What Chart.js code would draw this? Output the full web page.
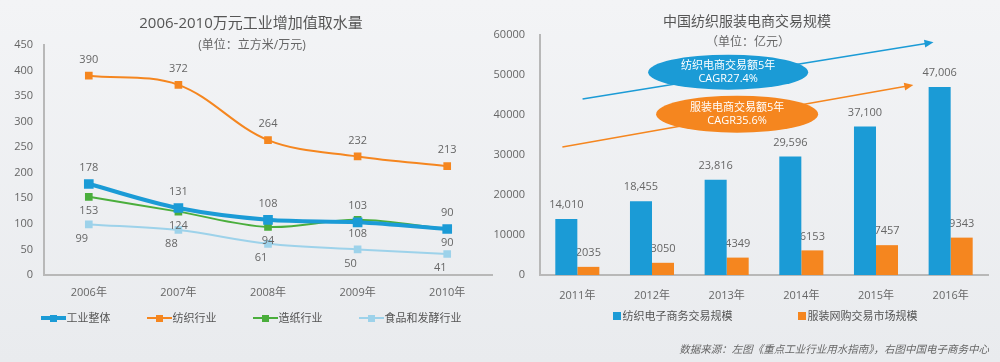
<!DOCTYPE html>
<html lang="zh">
<head>
  <meta charset="UTF-8">
  <title>工业取水量与纺织服装电商交易规模</title>
  <script src="https://cdn.jsdelivr.net/npm/chart.js"></script>
  <style>
    html, body {
      margin: 0;
      padding: 0;
    }
    body {
      width: 1000px;
      height: 362px;
      overflow: hidden;
      position: relative;
      font-family: "Open Sans", "Noto Sans CJK SC", sans-serif;
      background: linear-gradient(to bottom, #f3f4f6, #e9ebee);
      color: #555;
    }
    .box {
      position: absolute;
      top: 0;
      height: 362px;
    }
    #left { left: 0; width: 500px; }
    #right { left: 490px; width: 510px; }
    .title, .sub {
      position: absolute;
      text-align: center;
      white-space: nowrap;
    }
    .title { font-size: 15px; line-height: 20px; color: #555; }
    .sub { font-size: 12px; line-height: 16px; color: #666; }
    .legend {
      position: absolute;
      display: flex;
      justify-content: center;
      font-size: 11px;
      line-height: 14px;
      color: #555;
      white-space: nowrap;
    }
    .legend .item { display: flex; align-items: center; }
    .icon-line {
      position: relative;
      width: 25px;
      margin-right: 1px;
    }
    .icon-line .ln { position: absolute; left: 0; right: 0; top: 50%; }
    .icon-line .sq {
      position: absolute; left: 9px; top: 50%;
      width: 7px; height: 7px; margin-top: -3.5px;
    }
    .icon-box { width: 8px; height: 8px; margin-right: 2px; }
    #source {
      position: absolute;
      right: 11px;
      top: 341px;
      font-size: 10.5px;
      font-style: italic;
      color: #666;
      white-space: nowrap;
    }
  </style>
</head>
<body>
  <div class="box" id="left"><canvas id="waterChart"></canvas></div>
  <div class="box" id="right"><canvas id="ecomChart"></canvas></div>

  <div class="title" style="left:0;width:502px;top:12px;">2006-2010万元工业增加值取水量</div>
  <div class="sub" style="left:0;width:504px;top:37px;">(单位：立方米/万元)</div>
  <div class="title" style="left:547px;width:400px;top:11px;font-size:14px;">中国纺织服装电商交易规模</div>
  <div class="sub" style="left:548px;width:400px;top:34px;">（单位：亿元）</div>

  <div class="legend" id="leftLegend" style="left:3px;width:496px;top:311px;gap:36px;"></div>
  <div class="legend" id="rightLegend" style="left:565px;width:400px;top:309px;gap:65px;"></div>

  <div id="source">数据来源：左图《重点工业行业用水指南》，右图中国电子商务中心</div>

  <script>
    // left chart: water use per 10k yuan of industrial value added
    const lineYears = ['2006年', '2007年', '2008年', '2009年', '2010年'];
    const overall = [178, 131, 108, 103, 90];
    const textile = [390, 372, 264, 232, 213];
    const paper = [153, 124, 94, 108, 90];
    const food = [99, 88, 61, 50, 41];

    // right chart: e-commerce scale (亿元)
    const barYears = ['2011年', '2012年', '2013年', '2014年', '2015年', '2016年'];
    const textileEcom = [14010, 18455, 23816, 29596, 37100, 47006];
    const apparelOnline = [2035, 3050, 4349, 6153, 7457, 9343];

    const BLUE = '#1b9bd6';
    const ORANGE = '#f5861f';
    const GREEN = '#4aae3c';
    const LIGHT = '#9dd2ea';
    const AXIS = '#b8b8b8';
    const TEXT = '#666';
    const FONT = '"Open Sans", "Noto Sans CJK SC", sans-serif';

    Chart.defaults.font.family = FONT;
    Chart.defaults.color = TEXT;

    const pointLabels = {
      id: 'pointLabels',
      afterDatasetsDraw(chart) {
        const ctx = chart.ctx;
        ctx.save();
        ctx.font = '11px ' + FONT;
        ctx.fillStyle = TEXT;
        ctx.textAlign = 'center';
        ctx.textBaseline = 'middle';
        chart.data.datasets.forEach((ds, i) => {
          chart.getDatasetMeta(i).data.forEach((pt, j) => {
            ctx.fillText(ds.data[j], pt.x + (ds.labelDx || 0), pt.y + ds.labelDy);
          });
        });
        ctx.restore();
      }
    };

    function lineSet(label, data, color, width, dy, dx) {
      return {
        label, data,
        borderColor: color,
        backgroundColor: color,
        borderWidth: width,
        pointStyle: 'rect',
        pointRadius: 4,
        pointHoverRadius: 4,
        tension: 0.35,
        labelDy: dy,
        labelDx: dx || 0
      };
    }

    const waterChart = new Chart(document.getElementById('waterChart'), {
      type: 'line',
      data: {
        labels: lineYears,
        datasets: [
          lineSet('工业整体', overall, BLUE, 4, -16),
          lineSet('纺织行业', textile, ORANGE, 2, -16),
          lineSet('造纸行业', paper, GREEN, 2, 14),
          lineSet('食品和发酵行业', food, LIGHT, 2, 14, -7)
        ]
      },
      options: {
        responsive: true,
        maintainAspectRatio: false,
        animation: false,
        layout: { padding: { top: 45, right: 6, bottom: 57, left: 0 } },
        plugins: { legend: { display: false }, tooltip: { enabled: false } },
        scales: {
          x: {
            offset: true,
            grid: { display: false, drawTicks: false },
            border: { color: AXIS, width: 2 },
            ticks: { padding: 11, font: { size: 11 }, color: TEXT },
            afterFit: s => { s.height = 30; }
          },
          y: {
            min: 0, max: 450,
            grid: { display: false, drawTicks: false },
            border: { color: AXIS, width: 2 },
            ticks: { stepSize: 50, padding: 11, font: { size: 11 }, color: TEXT },
            afterFit: s => { s.width = 44; }
          }
        }
      },
      plugins: [pointLabels]
    });

    // arrows and CAGR bubbles, placed in data coordinates
    const trendArrows = [
      { from: [0.07, 44000], to: [4.77, 58200], color: BLUE },
      { from: [-0.2, 32000], to: [4.5, 47500], color: ORANGE }
    ];
    const bubbles = [
      { at: [2.02, 50700], w: 160, h: 35, color: BLUE, lines: ['纺织电商交易额5年', 'CAGR27.4%'] },
      { at: [2.14, 40200], w: 162, h: 37, color: ORANGE, lines: ['服装电商交易额5年', 'CAGR35.6%'] }
    ];

    const barLabels = {
      id: 'barLabels',
      afterDatasetDraw(chart, args) {
        const ctx = chart.ctx;
        const ds = chart.data.datasets[args.index];
        ctx.save();
        ctx.font = '11px ' + FONT;
        ctx.fillStyle = TEXT;
        ctx.textAlign = 'center';
        ctx.textBaseline = 'middle';
        args.meta.data.forEach((bar, j) => {
          const v = ds.data[j];
          const txt = ds.comma ? v.toLocaleString('en-US') : String(v);
          ctx.fillText(txt, bar.x, bar.y - 14);
        });
        ctx.restore();
      }
    };

    const cagrNotes = {
      id: 'cagrNotes',
      afterDatasetsDraw(chart) {
        const ctx = chart.ctx;
        const xs = chart.scales.x, ys = chart.scales.y;
        const px = p => [xs.getPixelForValue(p[0]), ys.getPixelForValue(p[1])];
        ctx.save();
        trendArrows.forEach(a => {
          const [x1, y1] = px(a.from);
          const [x2, y2] = px(a.to);
          const ang = Math.atan2(y2 - y1, x2 - x1);
          ctx.strokeStyle = a.color;
          ctx.fillStyle = a.color;
          ctx.lineWidth = 1.5;
          ctx.beginPath();
          ctx.moveTo(x1, y1);
          ctx.lineTo(x2 - 6 * Math.cos(ang), y2 - 6 * Math.sin(ang));
          ctx.stroke();
          ctx.beginPath();
          ctx.moveTo(x2, y2);
          ctx.lineTo(x2 - 9 * Math.cos(ang) + 4 * Math.sin(ang), y2 - 9 * Math.sin(ang) - 4 * Math.cos(ang));
          ctx.lineTo(x2 - 9 * Math.cos(ang) - 4 * Math.sin(ang), y2 - 9 * Math.sin(ang) + 4 * Math.cos(ang));
          ctx.closePath();
          ctx.fill();
        });
        ctx.font = '11px ' + FONT;
        ctx.textAlign = 'center';
        ctx.textBaseline = 'middle';
        bubbles.forEach(b => {
          const [cx, cy] = px(b.at);
          ctx.fillStyle = b.color;
          ctx.beginPath();
          ctx.ellipse(cx, cy, b.w / 2, b.h / 2, 0, 0, Math.PI * 2);
          ctx.fill();
          ctx.fillStyle = '#fff';
          ctx.fillText(b.lines[0], cx, cy - 6.5);
          ctx.fillText(b.lines[1], cx, cy + 6.5);
        });
        ctx.restore();
      }
    };

    const ecomChart = new Chart(document.getElementById('ecomChart'), {
      type: 'bar',
      data: {
        labels: barYears,
        datasets: [
          { label: '纺织电子商务交易规模', data: textileEcom, backgroundColor: BLUE, comma: true },
          { label: '服装网购交易市场规模', data: apparelOnline, backgroundColor: ORANGE, comma: false }
        ]
      },
      options: {
        responsive: true,
        maintainAspectRatio: false,
        animation: false,
        layout: { padding: { top: 35, right: 12, bottom: 55, left: 0 } },
        datasets: { bar: { categoryPercentage: 0.59, barPercentage: 1 } },
        plugins: { legend: { display: false }, tooltip: { enabled: false } },
        scales: {
          x: {
            grid: { display: false, drawTicks: false },
            border: { color: AXIS, width: 2 },
            ticks: { padding: 14, font: { size: 11 }, color: TEXT },
            afterFit: s => { s.height = 32; }
          },
          y: {
            min: 0, max: 60000,
            grid: { display: false, drawTicks: false },
            border: { color: AXIS, width: 2 },
            ticks: {
              stepSize: 10000, padding: 15, font: { size: 11 }, color: TEXT,
              callback: v => String(v)
            },
            afterFit: s => { s.width = 50; }
          }
        }
      },
      plugins: [barLabels, cagrNotes]
    });

    // html legends built from the chart datasets
    function lineLegend(chart, el) {
      chart.data.datasets.forEach(ds => {
        const item = document.createElement('div');
        item.className = 'item';
        item.innerHTML =
          '<span class="icon-line" style="height:14px">' +
          '<span class="ln" style="height:' + (ds.borderWidth - 0.5) + 'px;margin-top:-' + (ds.borderWidth - 0.5) / 2 + 'px;background:' + ds.borderColor + '"></span>' +
          '<span class="sq" style="background:' + ds.borderColor + '"></span></span>' +
          '<span>' + ds.label + '</span>';
        el.appendChild(item);
      });
    }
    function boxLegend(chart, el) {
      chart.data.datasets.forEach(ds => {
        const item = document.createElement('div');
        item.className = 'item';
        item.innerHTML = '<span class="icon-box" style="background:' + ds.backgroundColor + '"></span><span>' + ds.label + '</span>';
        el.appendChild(item);
      });
    }
    lineLegend(waterChart, document.getElementById('leftLegend'));
    boxLegend(ecomChart, document.getElementById('rightLegend'));
  </script>
</body>
</html>
